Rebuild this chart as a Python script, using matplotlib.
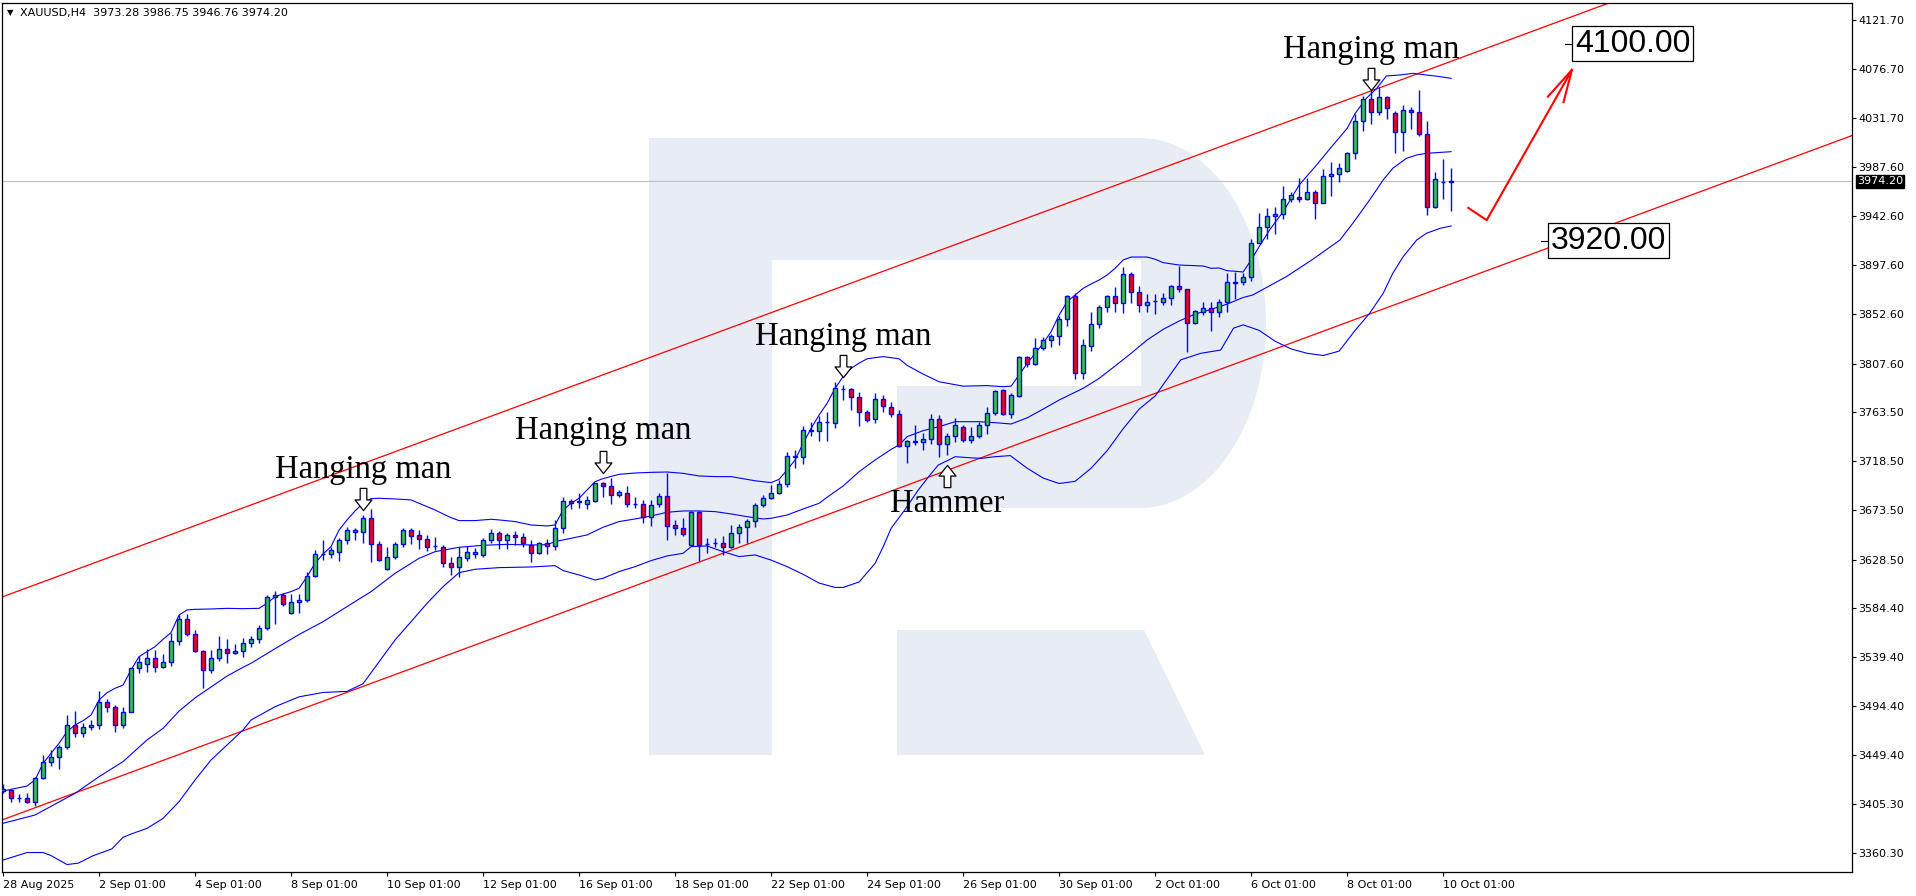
import numpy as np
import matplotlib.pyplot as plt
from matplotlib.path import Path
from matplotlib.patches import Polygon

symbol = "XAUUSD,H4"

# H4 candles, 28 Aug 2025 .. 10 Oct 2025
opens = [3417.0, 3417.9, 3410.1, 3410.2, 3407.2, 3428.5, 3443.1, 3447.7, 3456.9, 3477.0,
         3469.6, 3475.1, 3477.0, 3498.0, 3493.4, 3477.0, 3488.9, 3529.1, 3532.7, 3538.2,
         3530.0, 3534.6, 3553.7, 3574.2, 3560.2, 3545.2, 3527.6, 3538.2, 3546.4, 3542.8,
         3545.2, 3551.9, 3555.5, 3566.0, 3594.0, 3595.8, 3580.0, 3589.4, 3591.3, 3613.5,
         3633.3, 3633.3, 3635.1, 3646.4, 3653.4, 3653.4, 3666.8, 3642.4, 3619.9, 3630.6,
         3642.4, 3655.5, 3650.7, 3647.0, 3641.2, 3640.3, 3625.1, 3621.4, 3629.6, 3633.3,
         3632.4, 3646.4, 3652.5, 3646.4, 3650.7, 3648.8, 3641.5, 3634.2, 3643.3, 3640.9,
         3657.1, 3681.7, 3681.4, 3679.0, 3682.3, 3698.2, 3695.8, 3687.2, 3689.0, 3679.1,
         3679.0, 3667.7, 3679.0, 3686.6, 3659.8, 3657.1, 3641.8, 3672.0, 3642.6, 3643.9,
         3643.3, 3639.7, 3652.5, 3658.0, 3663.8, 3678.4, 3685.1, 3689.0, 3697.3, 3722.5,
         3721.9, 3746.3, 3746.0, 3754.2, 3753.0, 3784.1, 3784.1, 3776.8, 3763.7, 3757.0,
         3775.0, 3768.2, 3761.2, 3732.6, 3736.2, 3735.6, 3738.4, 3756.7, 3734.1, 3741.7,
         3749.4, 3737.8, 3741.7, 3751.5, 3762.8, 3783.5, 3761.2, 3778.3, 3813.3, 3806.9,
         3821.6, 3829.2, 3832.8, 3848.4, 3869.4, 3798.7, 3823.7, 3843.8, 3859.0, 3869.4,
         3863.3, 3889.5, 3872.7, 3861.2, 3865.1, 3864.2, 3867.3, 3878.8, 3875.5, 3844.4,
         3854.5, 3858.1, 3854.5, 3863.6, 3881.7, 3881.9, 3887.1, 3917.5, 3932.1, 3942.5,
         3944.0, 3958.1, 3960.2, 3957.8, 3964.1, 3954.7, 3978.8, 3980.6, 3983.6, 3999.8,
         4029.3, 4049.1, 4037.9, 4051.0, 4036.9, 4019.6, 4039.4, 4037.3, 4017.2, 3950.4,
         3973.6, 3973.28]
highs = [3423.3, 3418.5, 3414.2, 3414.8, 3430.0, 3449.9, 3454.4, 3459.0, 3486.4, 3490.1,
         3479.4, 3481.8, 3508.4, 3501.0, 3495.6, 3494.0, 3529.1, 3540.3, 3546.4, 3545.8,
         3542.2, 3561.1, 3577.8, 3578.4, 3564.1, 3545.8, 3545.8, 3558.6, 3555.6, 3551.3,
         3557.1, 3558.6, 3569.0, 3596.3, 3599.8, 3598.3, 3597.0, 3597.0, 3617.5, 3637.3,
         3646.4, 3640.3, 3647.9, 3658.0, 3657.1, 3669.2, 3674.7, 3645.5, 3640.3, 3644.9,
         3657.1, 3657.1, 3655.5, 3651.0, 3648.8, 3641.8, 3630.6, 3640.3, 3640.9, 3638.8,
         3647.9, 3656.4, 3654.9, 3652.5, 3654.3, 3652.5, 3646.4, 3644.9, 3647.0, 3664.7,
         3686.0, 3683.6, 3689.0, 3686.6, 3698.8, 3699.7, 3702.8, 3692.1, 3695.8, 3686.0,
         3683.0, 3683.0, 3689.0, 3707.3, 3664.7, 3666.2, 3673.2, 3673.2, 3647.9, 3647.9,
         3650.4, 3660.1, 3661.0, 3665.3, 3679.9, 3687.5, 3696.6, 3701.2, 3727.1, 3728.6,
         3750.6, 3754.5, 3759.7, 3763.7, 3791.1, 3788.1, 3785.0, 3781.4, 3765.2, 3780.4,
         3778.9, 3772.8, 3765.2, 3737.8, 3751.5, 3743.9, 3761.5, 3760.6, 3744.5, 3757.6,
         3751.2, 3750.0, 3754.5, 3768.2, 3783.5, 3784.4, 3781.0, 3814.6, 3814.6, 3830.7,
         3832.2, 3834.7, 3851.4, 3870.6, 3871.8, 3830.1, 3855.1, 3861.2, 3870.3, 3877.9,
         3895.6, 3891.0, 3878.5, 3871.2, 3871.2, 3871.8, 3879.4, 3896.8, 3875.5, 3856.6,
         3863.6, 3864.2, 3866.4, 3890.1, 3891.0, 3890.7, 3921.2, 3945.6, 3950.1, 3951.0,
         3969.9, 3964.1, 3977.5, 3977.5, 3966.3, 3985.5, 3991.6, 3990.6, 4000.7, 4035.7,
         4052.5, 4057.7, 4060.1, 4052.2, 4038.5, 4044.0, 4042.4, 4057.7, 4029.3, 3982.4,
         3994.6, 3986.75]
lows = [3415.4, 3407.2, 3406.6, 3406.3, 3403.5, 3428.0, 3440.1, 3436.8, 3455.0, 3466.6,
        3466.0, 3472.7, 3473.9, 3489.5, 3470.6, 3474.2, 3488.9, 3525.1, 3526.0, 3526.0,
        3529.1, 3531.5, 3550.4, 3558.9, 3544.3, 3511.4, 3524.5, 3536.1, 3534.2, 3542.2,
        3539.7, 3548.5, 3552.0, 3564.0, 3570.0, 3586.4, 3578.8, 3579.4, 3590.0, 3612.3,
        3628.1, 3629.6, 3627.5, 3642.4, 3646.4, 3643.3, 3626.6, 3627.2, 3619.0, 3628.7,
        3640.3, 3642.7, 3637.9, 3636.6, 3637.2, 3622.0, 3614.4, 3612.9, 3627.5, 3629.6,
        3631.2, 3643.3, 3637.9, 3637.9, 3641.5, 3639.7, 3626.6, 3634.0, 3633.6, 3637.2,
        3653.1, 3674.4, 3676.0, 3674.4, 3681.4, 3685.4, 3679.0, 3686.0, 3676.3, 3675.3,
        3662.2, 3659.2, 3676.9, 3646.4, 3651.0, 3650.4, 3641.5, 3627.5, 3634.2, 3640.3,
        3632.7, 3639.4, 3643.3, 3643.3, 3658.6, 3676.8, 3683.5, 3688.4, 3695.1, 3711.9,
        3715.8, 3741.4, 3736.9, 3736.9, 3748.4, 3774.3, 3765.2, 3750.9, 3754.5, 3753.0,
        3763.7, 3759.1, 3731.1, 3717.1, 3733.2, 3728.6, 3734.1, 3721.9, 3724.1, 3736.3,
        3736.3, 3734.7, 3739.3, 3743.0, 3760.6, 3760.6, 3758.0, 3777.4, 3804.8, 3806.3,
        3820.0, 3822.5, 3824.6, 3842.3, 3793.2, 3793.5, 3819.4, 3839.8, 3855.1, 3855.1,
        3853.6, 3863.3, 3855.1, 3854.5, 3852.9, 3861.2, 3861.2, 3872.7, 3818.5, 3843.5,
        3852.0, 3837.7, 3850.5, 3854.5, 3866.4, 3879.4, 3883.4, 3917.5, 3921.5, 3926.1,
        3939.5, 3955.6, 3955.6, 3957.1, 3939.8, 3954.1, 3960.8, 3973.9, 3983.0, 3994.6,
        4020.5, 4026.3, 4034.8, 4031.2, 4000.4, 4002.2, 4021.7, 4015.6, 3943.4, 3949.5,
        3957.8, 3946.76]
closes = [3418.5, 3410.2, 3410.3, 3407.2, 3428.5, 3443.1, 3447.7, 3456.9, 3477.0, 3469.6,
          3475.1, 3477.0, 3498.0, 3493.4, 3477.0, 3488.9, 3529.1, 3534.6, 3538.2, 3530.0,
          3534.6, 3553.7, 3574.2, 3560.2, 3545.2, 3527.6, 3538.2, 3546.4, 3542.8, 3545.2,
          3551.9, 3555.5, 3566.0, 3594.0, 3595.8, 3587.6, 3589.4, 3591.3, 3613.5, 3633.3,
          3633.6, 3636.9, 3646.4, 3655.5, 3655.5, 3666.8, 3642.4, 3628.1, 3630.6, 3642.4,
          3655.5, 3650.4, 3647.0, 3640.3, 3641.0, 3625.1, 3621.4, 3630.6, 3635.1, 3635.1,
          3646.4, 3652.5, 3646.4, 3650.7, 3648.8, 3643.3, 3634.2, 3643.3, 3640.9, 3657.1,
          3681.7, 3679.9, 3681.6, 3683.0, 3698.2, 3695.8, 3687.2, 3690.0, 3679.3, 3679.0,
          3667.7, 3678.1, 3686.6, 3659.2, 3657.1, 3651.6, 3672.0, 3641.8, 3642.8, 3644.0,
          3639.7, 3652.5, 3658.0, 3663.8, 3678.4, 3685.1, 3689.6, 3697.3, 3723.2, 3722.7,
          3746.9, 3746.5, 3754.2, 3754.4, 3785.0, 3784.5, 3776.8, 3763.1, 3756.1, 3775.0,
          3769.2, 3761.2, 3732.6, 3736.9, 3736.4, 3738.4, 3756.7, 3734.1, 3741.7, 3751.5,
          3737.8, 3741.7, 3751.5, 3762.8, 3782.6, 3761.2, 3778.9, 3813.3, 3806.9, 3821.6,
          3829.2, 3832.8, 3848.4, 3869.4, 3798.7, 3824.6, 3843.8, 3859.0, 3869.4, 3863.3,
          3889.5, 3872.7, 3861.2, 3863.6, 3865.2, 3867.3, 3878.8, 3875.5, 3844.4, 3856.0,
          3858.1, 3854.5, 3863.6, 3881.9, 3881.9, 3886.5, 3917.5, 3932.8, 3942.5, 3944.3,
          3957.8, 3961.7, 3957.8, 3964.1, 3954.7, 3979.1, 3980.9, 3986.1, 3999.8, 4029.3,
          4049.1, 4037.9, 4051.0, 4040.9, 4019.6, 4039.4, 4037.3, 4017.5, 3950.4, 3976.0,
          3973.5, 3974.20]

# Bollinger bands (bar index, price)
bb_upper = [(0, 3416.9), (3, 3421.5), (4, 3427.0), (5, 3442.2), (6, 3451.4), (7, 3460.5),
            (8, 3471.2), (9, 3477.3), (10, 3481.2), (11, 3486.4), (12, 3500.1), (13, 3506.8),
            (14, 3510.8), (15, 3513.8), (16, 3527.6), (17, 3539.7), (18, 3544.3), (19, 3548.9),
            (20, 3555.6), (21, 3561.7), (22, 3577.8), (23, 3582.4), (24, 3583.0), (26, 3583.3),
            (28, 3583.9), (30, 3583.6), (32, 3583.9), (33, 3588.5), (34, 3594.6), (35, 3597.0),
            (36, 3599.2), (37, 3602.2), (38, 3612.9), (39, 3625.1), (40, 3633.6), (41, 3640.3),
            (42, 3655.5), (43, 3664.7), (44, 3672.9), (45, 3679.9), (46, 3684.2), (47, 3684.5),
            (49, 3683.9), (51, 3683.0), (52, 3679.9), (53, 3676.9), (54, 3673.8), (55, 3670.2),
            (56, 3666.8), (57, 3664.1), (59, 3664.1), (61, 3665.3), (62, 3664.7), (64, 3663.2),
            (66, 3660.1), (68, 3659.2), (69, 3660.1), (70, 3673.8), (71, 3679.9), (72, 3684.5),
            (73, 3692.1), (74, 3699.7), (75, 3702.5), (77, 3706.4), (79, 3707.6), (81, 3708.2),
            (83, 3708.5), (85, 3707.3), (87, 3704.9), (89, 3704.3), (91, 3704.3), (94, 3700.5),
            (96, 3698.8), (97, 3701.8), (98, 3710.4), (99, 3719.5), (100, 3734.7), (101, 3748.4),
            (102, 3760.6), (103, 3771.3), (104, 3785.0), (105, 3795.7), (106, 3803.3),
            (107, 3808.0), (108, 3812.0), (110, 3814.0), (112, 3812.0), (113, 3806.0),
            (115, 3798.0), (117, 3791.0), (120, 3787.0), (123, 3787.5), (125, 3786.5),
            (126, 3787.0), (127, 3797.2), (128, 3807.8), (129, 3817.0), (130, 3826.1),
            (131, 3836.8), (132, 3852.0), (133, 3864.2), (134, 3870.3), (135, 3876.4),
            (136, 3880.4), (137, 3884.0), (138, 3888.6), (139, 3894.7), (140, 3902.3),
            (141, 3905.0), (143, 3905.0), (144, 3903.0), (145, 3899.9), (147, 3897.7),
            (150, 3896.8), (151, 3894.7), (152, 3895.0), (153, 3892.5), (154, 3892.0),
            (155, 3891.3), (156, 3902.3), (157, 3914.5), (158.3, 3929.7), (160, 3946.5),
            (162, 3970.8), (164, 3987.6), (166, 4005.3), (168, 4022.6), (169, 4036.3),
            (170.4, 4050.1), (171.7, 4059.2), (172.9, 4070.5), (174.6, 4071.4), (176.2, 4072.9),
            (177.9, 4071.4), (179.6, 4069.9), (181, 4068.3)]
bb_middle = [(0, 3387.4), (4, 3395.0), (9, 3414.8), (12, 3430.0), (15, 3443.8), (18, 3463.6),
             (20, 3474.2), (22, 3490.0), (24, 3502.0), (26, 3512.0), (28, 3522.0), (30, 3530.0),
             (31, 3533.7), (34, 3547.0), (37, 3560.0), (40, 3571.7), (43, 3585.5), (46, 3599.2),
             (49, 3615.9), (52, 3629.6), (54, 3635.7), (57, 3639.7), (60, 3641.5), (63, 3642.4),
             (66, 3641.8), (68, 3642.1), (69, 3644.9), (71, 3647.9), (73, 3651.0), (75, 3658.0),
             (77, 3663.2), (79, 3665.6), (81, 3668.3), (83, 3671.7), (85, 3672.9), (87, 3672.9),
             (89, 3672.3), (91, 3670.2), (93, 3667.7), (95, 3665.6), (96, 3666.2), (98, 3669.2),
             (100, 3674.7), (102, 3679.9), (103, 3685.4), (104, 3690.6), (105, 3695.7),
             (107, 3708.8), (109, 3719.5), (111, 3729.2), (112, 3733.2), (113, 3740.8),
             (115, 3746.3), (117, 3750.0), (119, 3754.5), (122, 3754.5), (124, 3753.6),
             (126, 3752.4), (128, 3758.0), (130, 3766.0), (132, 3774.3), (135, 3785.0),
             (137, 3794.1), (139, 3805.4), (141, 3817.0), (143, 3829.2), (145, 3838.9),
             (147, 3846.5), (149, 3852.9), (151, 3857.2), (153, 3862.0), (155, 3868.0),
             (156.2, 3870.3), (160.4, 3887.1), (163.7, 3902.9), (167.1, 3920.6), (168.7, 3935.8),
             (170.8, 3957.1), (172.5, 3975.4), (173.7, 3986.1), (175.4, 3995.2), (176.7, 3998.3),
             (177.9, 3999.8), (181, 4001.3)]
bb_lower = [(0, 3353.8), (3, 3360.7), (5, 3360.7), (6, 3357.9), (8, 3349.7), (9.4, 3351.0),
            (11.3, 3357.9), (13.6, 3364.0), (15, 3374.6), (16, 3377.6), (18, 3382.8),
            (20, 3391.9), (22, 3407.2), (24, 3427.0), (26, 3445.3), (28, 3459.0), (30, 3472.7),
            (31, 3481.8), (34, 3494.0), (37, 3503.0), (40, 3507.0), (43, 3508.0), (45, 3515.0),
            (47, 3535.0), (49, 3555.0), (51, 3571.7), (53, 3588.5), (55, 3603.7), (57, 3616.5),
            (59, 3619.6), (62, 3621.1), (66, 3621.7), (69, 3622.9), (70, 3618.4), (72, 3614.4),
            (74, 3609.8), (75, 3611.4), (77, 3617.5), (79, 3622.0), (81, 3627.5), (83, 3631.8),
            (85, 3634.2), (86, 3640.3), (88, 3640.9), (90, 3635.7), (92, 3631.2), (94, 3632.7),
            (96, 3628.0), (98, 3622.0), (100, 3615.0), (102, 3607.0), (104, 3603.0),
            (105, 3603.0), (107, 3608.0), (109, 3625.0), (110, 3640.0), (111, 3657.0),
            (112.7, 3673.8), (114.4, 3692.1), (115.7, 3704.3), (116.9, 3714.9), (118.2, 3719.5),
            (119, 3722.5), (120.7, 3721.6), (122.3, 3721.0), (124, 3722.5), (125.9, 3723.5),
            (128, 3712.0), (130, 3703.0), (132, 3698.0), (134, 3700.0), (136, 3712.0),
            (138, 3728.0), (140, 3748.0), (142, 3766.0), (144, 3778.0), (147.2, 3811.0),
            (149.7, 3817.0), (152.2, 3820.0), (153.8, 3840.0), (155, 3843.0), (157, 3838.0),
            (159, 3828.0), (161, 3821.0), (163, 3817.0), (165, 3815.0), (167, 3819.0),
            (169, 3838.0), (170.8, 3853.5), (172.5, 3871.8), (173.7, 3890.1), (175, 3905.3),
            (176.7, 3920.6), (177.9, 3926.7), (179.6, 3931.2), (181, 3933.4)]

# channel trend lines: two anchor points each (bar index, price)
channel_upper = [(0, 3594.6), (187.1, 4100.4)]
channel_lower = [(0, 3390.8), (231.2, 4016.3)]

# candle pattern marks
pattern_names = ["Hanging man", "Hanging man", "Hanging man", "Hanging man", "Hammer"]
pattern_bars = [45, 75, 105, 171, 118]
pattern_arrow_price = [3683.9, 3717.2, 3805.2, 4067.6, 3705.0]
pattern_text_price = [3703.3, 3738.7, 3824.6, 4087.0, 3672.3]

# forecast path and targets
forecast_bars = [183.15, 185.44, 196.09]
forecast_prices = [3949.9, 3938.7, 4076.0]
arrow_wing_bars = [193.09, 195.04]
arrow_wing_prices = [4051.6, 4046.5]
targets = [4100.00, 3920.00]
target_bars = [196.4, 193.4]

date_labels = ["28 Aug 2025", "2 Sep 01:00", "4 Sep 01:00", "8 Sep 01:00", "10 Sep 01:00",
               "12 Sep 01:00", "16 Sep 01:00", "18 Sep 01:00", "22 Sep 01:00", "24 Sep 01:00",
               "26 Sep 01:00", "30 Sep 01:00", "2 Oct 01:00", "6 Oct 01:00", "8 Oct 01:00",
               "10 Oct 01:00"]
price_ticks = [4121.70, 4076.70, 4031.70, 3987.60, 3942.60, 3897.60, 3852.60, 3807.60,
               3763.50, 3718.50, 3673.50, 3628.50, 3584.40, 3539.40, 3494.40, 3449.40,
               3405.30, 3360.30]

W, H = 1916, 896
L_PX, R_PX, T_PX, B_PX = 2.3, 1852, 3, 872

fig = plt.figure(figsize=(W / 100, H / 100), dpi=100)
fig.patch.set_facecolor("white")
ax = fig.add_axes([L_PX / W, (H - B_PX) / H, (R_PX - L_PX) / W, (B_PX - T_PX) / H])
ax.set_xlim(-0.09, 231.1)
ax.set_ylim(3342.9, 4137.2)


def px(x, y):
    # chart pixel -> axes fraction (for the background logo)
    return ((x - L_PX) / (R_PX - L_PX), (B_PX - y) / (B_PX - T_PX))


# background logo
logo_col = "#e8ecf4"
t = np.linspace(np.pi / 2, -np.pi / 2, 60)
arc = [(1140 + 126 * np.cos(a), 323 - 185 * np.sin(a)) for a in t]
bowl = [(649, 138)] + arc + [(897, 508), (897, 386), (1141, 386), (1141, 260),
                             (772, 260), (772, 755), (649, 755)]
leg = [(897, 630), (1144, 630), (1205, 755), (897, 755)]
for shape in (bowl, leg):
    ax.add_patch(Polygon([px(x, y) for x, y in shape], closed=True, fc=logo_col,
                         ec="none", transform=ax.transAxes, zorder=0))

# current price line
ax.axhline(closes[-1], color="#c0c0c0", lw=0.8, zorder=1)

# channel
for (x1, y1), (x2, y2) in (channel_upper, channel_lower):
    ax.axline((x1, y1), (x2, y2), color="red", lw=0.9, zorder=2)

# bollinger bands
for band in (bb_upper, bb_middle, bb_lower):
    bx, by = zip(*band)
    ax.plot(bx, by, color="blue", lw=0.8, zorder=2)

# candles
o = np.array(opens)
c = np.array(closes)
x = np.arange(len(o))
body_lo = np.minimum(o, c)
body_h = np.maximum(np.abs(c - o), 0.05)
cols = np.where(c >= o, "#33cc33", "red")
ax.vlines(x, lows, highs, color="blue", lw=1.0, zorder=3)
ax.bar(x, body_h, bottom=body_lo, width=0.5, color=cols, edgecolor="blue",
       linewidth=1.0, zorder=4)

# pattern arrows and labels
down_arrow = Path([(-0.15, 0.5), (0.15, 0.5), (0.15, -0.02), (0.38, -0.02), (0, -0.5),
                   (-0.38, -0.02), (-0.15, -0.02), (-0.15, 0.5)], closed=True)
up_arrow = Path([(vx, -vy) for vx, vy in down_arrow.vertices], closed=True)
for name, b, ap, tp in zip(pattern_names, pattern_bars, pattern_arrow_price, pattern_text_price):
    mk = up_arrow if name == "Hammer" else down_arrow
    ax.plot([b], [ap], marker=mk, ms=16, mfc="white", mec="black", mew=0.9, zorder=6)
    ax.text(b, tp, name, ha="center", va="baseline", fontsize=23.5,
            family="Liberation Serif", color="black", zorder=6)

# forecast arrow
ax.plot(forecast_bars, forecast_prices, color="red", lw=1.5, zorder=6, clip_on=False)
for wb, wp in zip(arrow_wing_bars, arrow_wing_prices):
    ax.plot([forecast_bars[-1], wb], [forecast_prices[-1], wp], color="red", lw=1.5,
            zorder=6)

# target labels
for tv, tb in zip(targets, target_bars):
    ax.plot([tb - 1.2, tb], [tv, tv], color="black", lw=0.8, zorder=6)
    ax.text(tb + 0.05, tv, f"{tv:.2f}", ha="left", va="center", fontsize=23,
            family="Liberation Sans", color="black", zorder=7,
            bbox=dict(boxstyle="square,pad=0.08", fc="white", ec="black", lw=0.9))

# axes styling
for s in ax.spines.values():
    s.set_color("black")
    s.set_linewidth(0.9)
ax.yaxis.tick_right()
ax.set_yticks(price_ticks)
ax.set_yticklabels([f"{v:.2f}" for v in price_ticks])
ax.tick_params(axis="y", direction="out", length=3.2, width=0.8, pad=1.2,
               labelsize=8, colors="black")
ax.set_xticks(np.arange(len(date_labels)) * 12)
ax.set_xticklabels(date_labels, ha="left")
ax.tick_params(axis="x", direction="out", length=3, width=0.8, pad=2.5, labelsize=8)

# current price tag on the scale
ax.annotate(f"{closes[-1]:.2f}", xy=(1, closes[-1]), xycoords=("axes fraction", "data"),
            xytext=(5, 0), textcoords="offset pixels", ha="left", va="center",
            fontsize=8, color="white", annotation_clip=False,
            bbox=dict(boxstyle="square,pad=0.12", fc="black", ec="black"))

# header
fig.text(7 / W, 1 - 13 / H, "\u25bc", fontsize=6, va="center", ha="left")
fig.text(20.5 / W, 1 - 13 / H,
         f"{symbol}  {opens[-1]:.2f} {highs[-1]:.2f} {lows[-1]:.2f} {closes[-1]:.2f}",
         fontsize=8, va="center", ha="left")

fig.savefig("out.png", dpi=100)
